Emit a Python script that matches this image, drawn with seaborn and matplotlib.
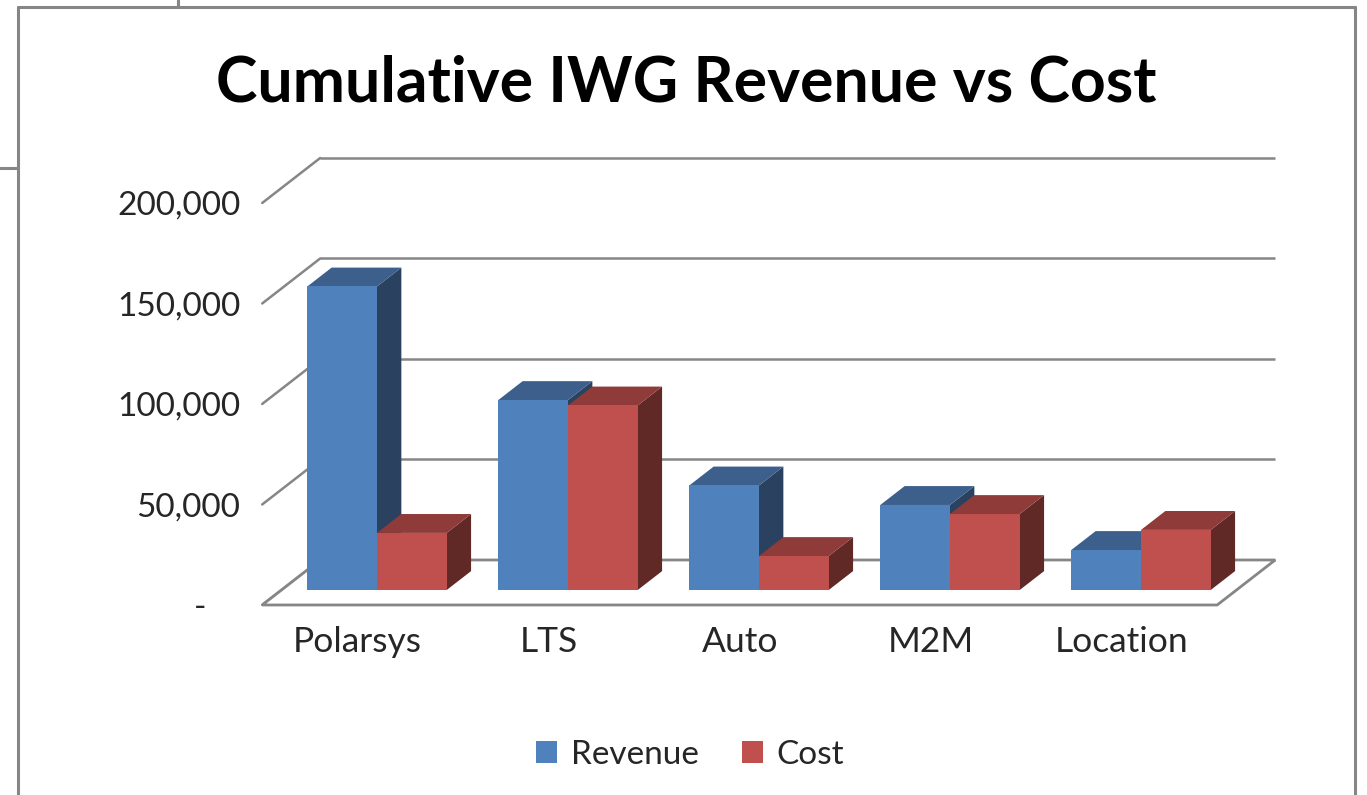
import matplotlib
matplotlib.use("Agg")
import matplotlib.pyplot as plt
import seaborn as sns
import pandas as pd
from matplotlib.patches import Polygon
from matplotlib.lines import Line2D

# ---------------- data ----------------
categories = ["Polarsys", "LTS", "Auto", "M2M", "Location"]
series_names = ["Revenue", "Cost"]
revenue = [151000, 94500, 52000, 42300, 19900]
cost = [28400, 91800, 16900, 37800, 29900]
y_ticks = [0, 50000, 100000, 150000, 200000]
y_tick_labels = ["-    ", "50,000", "100,000", "150,000", "200,000"]
title = "Cumulative IWG Revenue vs Cost"

# ---------------- style ----------------
FRONT = {"Revenue": "#4F81BD", "Cost": "#C0504D"}
TOP = {"Revenue": "#3C5F8C", "Cost": "#8E3B39"}
SIDE = {"Revenue": "#2A4260", "Cost": "#612926"}
GRID = "#868686"

sns.set_style("white")
plt.rcParams["font.family"] = ["Lato", "DejaVu Sans"]

W, H = 1367, 795
fig = plt.figure(figsize=(W / 100, H / 100), dpi=100)
fig.patch.set_facecolor("white")

# pixel geometry of the projection (layout only)
PX_PER_CAT = 191.0
PX_PER_VAL = 0.00201
X0_PX, Y0_PX = 377.0, 590.0
L, R, T, B = 255, 1310, 120, 615
ax = fig.add_axes([L / W, 1 - B / H, (R - L) / W, (B - T) / H])

df = pd.DataFrame({
    "category": categories * 2,
    "series": [series_names[0]] * len(categories) + [series_names[1]] * len(categories),
    "value": revenue + cost,
})
sns.barplot(data=df, x="category", y="value", hue="series", order=categories,
            hue_order=series_names, palette=[FRONT[s] for s in series_names],
            width=0.73, saturation=1, linewidth=0, ax=ax)
ax.set_xlim((L - X0_PX) / PX_PER_CAT, (R - X0_PX) / PX_PER_CAT)
ax.set_ylim((Y0_PX - B) / PX_PER_VAL, (Y0_PX - T) / PX_PER_VAL)

handles, labels = ax.get_legend_handles_labels()
if ax.get_legend() is not None:
    ax.get_legend().remove()

# depth vectors (data units)
DX = 58 / PX_PER_CAT
DY = 45 / PX_PER_VAL
t0 = 0.333          # bar front plane depth within the floor
bd = 0.42           # bar depth fraction
bdx, bdy = bd * DX, bd * DY
fx, fy = -t0 * DX, -t0 * DY            # offset to front plane
kx, ky = (1 - t0) * DX, (1 - t0) * DY  # offset to back wall
n = len(categories)
xl, xr = -0.5, n - 0.5

# back-wall gridlines + left-wall diagonals
for v in y_ticks:
    ax.plot([xl + kx, xr + kx], [v + ky, v + ky], color=GRID, lw=1.8, zorder=1,
            solid_capstyle="butt")
    ax.plot([xl + fx, xl + kx], [v + fy, v + ky], color=GRID, lw=1.8, zorder=1)

# floor
floor = Polygon([(xl + fx, fy), (xr + fx, fy), (xr + kx, ky), (xl + kx, ky)],
                closed=True, facecolor="white", edgecolor=GRID, lw=2.0, zorder=2)
ax.add_patch(floor)

# 3D faces for each bar
for j, cont in enumerate(ax.containers):
    s = series_names[j]
    for i, p in enumerate(cont.patches):
        x, w, h = p.get_x(), p.get_width(), p.get_height()
        k = i * 2 + j
        base = 5 + k * 0.1
        side = Polygon([(x + w, 0), (x + w, h), (x + w + bdx, h + bdy), (x + w + bdx, bdy)],
                       closed=True, facecolor=SIDE[s], edgecolor="none", zorder=base)
        top = Polygon([(x, h), (x + w, h), (x + w + bdx, h + bdy), (x + bdx, h + bdy)],
                      closed=True, facecolor=TOP[s], edgecolor="none", zorder=base + 0.03)
        ax.add_patch(side)
        ax.add_patch(top)
        p.set_zorder(base + 0.06)

# ticks on the front plane
ax.set_yticks([v + fy for v in y_ticks])
ax.set_yticklabels(y_tick_labels)
ax.set_xticks([i + fx for i in range(n)])
ax.set_xticklabels(categories)
ax.tick_params(axis="y", length=0, pad=10.5, labelsize=24)
ax.tick_params(axis="x", length=0, pad=8, labelsize=25.5)
ax.set_xlabel("")
ax.set_ylabel("")
for sp in ax.spines.values():
    sp.set_visible(False)
ax.set_facecolor("none")

# title
fig.text(686 / W, 1 - 102 / H, title, ha="center", va="baseline",
         fontsize=45, fontweight="bold", color="black")

# legend
fig.legend(handles, labels, loc="center", bbox_to_anchor=(690 / W, 1 - 755 / H),
           ncol=2, frameon=False, fontsize=24, handlelength=0.65, handleheight=0.65,
           handletextpad=0.4, columnspacing=1.3)

# chart-area border and spreadsheet stubs
def fline(xs, ys):
    fig.add_artist(Line2D([x / W for x in xs], [1 - y / H for y in ys],
                          transform=fig.transFigure, color=GRID, lw=2.2))

fline([18, 18], [7, 795])
fline([18, 1355], [7, 7])
fline([1355, 1355], [7, 795])
fline([178, 178], [0, 7])
fline([0, 18], [168, 168])

fig.savefig("out.png", dpi=100, facecolor="white")
